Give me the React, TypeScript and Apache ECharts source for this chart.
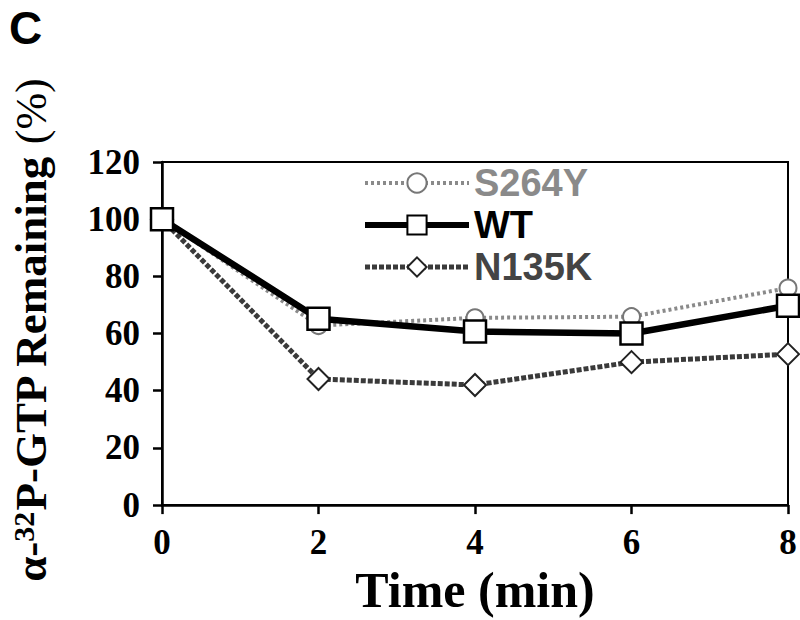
import React, { useEffect, useRef } from "react";
import * as echarts from "echarts";

const times = [0, 2, 4, 6, 8];
const s264y = [100, 62.8, 65.5, 65.9, 75.9];
const wt = [100, 65.2, 60.7, 60, 69.7];
const n135k = [100, 44.1, 42, 50, 52.8];
const seriesNames = ["S264Y", "WT", "N135K"];

const serif = "'Liberation Serif', 'Times New Roman', serif";
const sans = "'Liberation Sans', Arial, sans-serif";

export default function App() {
  const ref = useRef<HTMLDivElement>(null);
  useEffect(() => {
    if (!ref.current) return;
    document.body.style.margin = "0";
    const chart = echarts.init(ref.current, null, { renderer: "svg" });
    const pair = (ys: number[]) => times.map((t, i) => [t, ys[i]]);
    chart.setOption({
      animation: false,
      backgroundColor: "#fff",
      title: {
        text: "C",
        left: 4,
        top: 0,
        textStyle: { fontFamily: sans, fontWeight: "bold", fontSize: 46, color: "#000" },
      },
      grid: {
        left: 162,
        right: 12,
        top: 162,
        height: 348,
        show: true,
        borderColor: "#000",
        borderWidth: 2,
      },
      legend: {
        orient: "vertical",
        left: 357,
        top: 158,
        itemWidth: 104,
        itemHeight: 24,
        itemGap: 2,
        textStyle: { fontFamily: sans, fontWeight: "bold", fontSize: 38, lineHeight: 40 },
        data: [
          { name: "S264Y", textStyle: { color: "#8a8a8a" }, lineStyle: { width: 4 } },
          { name: "WT", textStyle: { color: "#000" }, lineStyle: { width: 6 } },
          { name: "N135K", textStyle: { color: "#444" }, lineStyle: { width: 5 } },
        ],
      },
      xAxis: {
        type: "value",
        min: 0,
        max: 8,
        interval: 2,
        name: "Time (min)",
        nameLocation: "middle",
        nameGap: 54,
        nameTextStyle: { fontFamily: serif, fontWeight: "bold", fontSize: 50, color: "#000" },
        axisLine: { lineStyle: { color: "#000", width: 2.5 } },
        axisTick: { length: 9, lineStyle: { color: "#000", width: 2.5 } },
        axisLabel: { fontFamily: serif, fontWeight: "bold", fontSize: 35, color: "#000", margin: 20 },
        splitLine: { show: false },
      },
      yAxis: {
        type: "value",
        min: 0,
        max: 120,
        interval: 20,
        axisLine: { lineStyle: { color: "#000", width: 2.5 } },
        axisTick: { length: 9, lineStyle: { color: "#000", width: 2.5 } },
        axisLabel: { fontFamily: serif, fontWeight: "bold", fontSize: 35, color: "#000", margin: 22 },
        splitLine: { show: false },
      },
      graphic: [
        {
          type: "text",
          x: 31,
          y: 330,
          rotation: Math.PI / 2,
          style: {
            text: "{a|α-}{s|32}{a|P-GTP Remaining }{b|(%)}",
            align: "center",
            verticalAlign: "middle",
            rich: {
              a: { fontFamily: serif, fontWeight: "bold", fontSize: 45, fill: "#000" },
              s: { fontFamily: serif, fontWeight: "bold", fontSize: 30, fill: "#000", verticalAlign: "top" },
              b: { fontFamily: serif, fontWeight: "normal", fontSize: 44, fill: "#000" },
            },
          },
        },
      ],
      series: [
        {
          name: seriesNames[2],
          type: "line",
          data: pair(n135k),
          symbol: "diamond",
          symbolSize: 22,
          lineStyle: { color: "#3a3a3a", width: 5, type: [5, 2] },
          itemStyle: { color: "#fff", borderColor: "#222", borderWidth: 2 },
        },
        {
          name: seriesNames[0],
          type: "line",
          data: pair(s264y),
          symbol: "circle",
          symbolSize: 17,
          lineStyle: { color: "#8a8a8a", width: 4, type: [3, 3] },
          itemStyle: { color: "#fff", borderColor: "#777", borderWidth: 2 },
        },
        {
          name: seriesNames[1],
          type: "line",
          data: pair(wt),
          symbol: "rect",
          symbolSize: 22,
          lineStyle: { color: "#000", width: 6.5 },
          itemStyle: { color: "#fff", borderColor: "#000", borderWidth: 2.5 },
        },
      ],
    });
    return () => chart.dispose();
  }, []);
  return <div ref={ref} style={{ width: 800, height: 620 }} />;
}
